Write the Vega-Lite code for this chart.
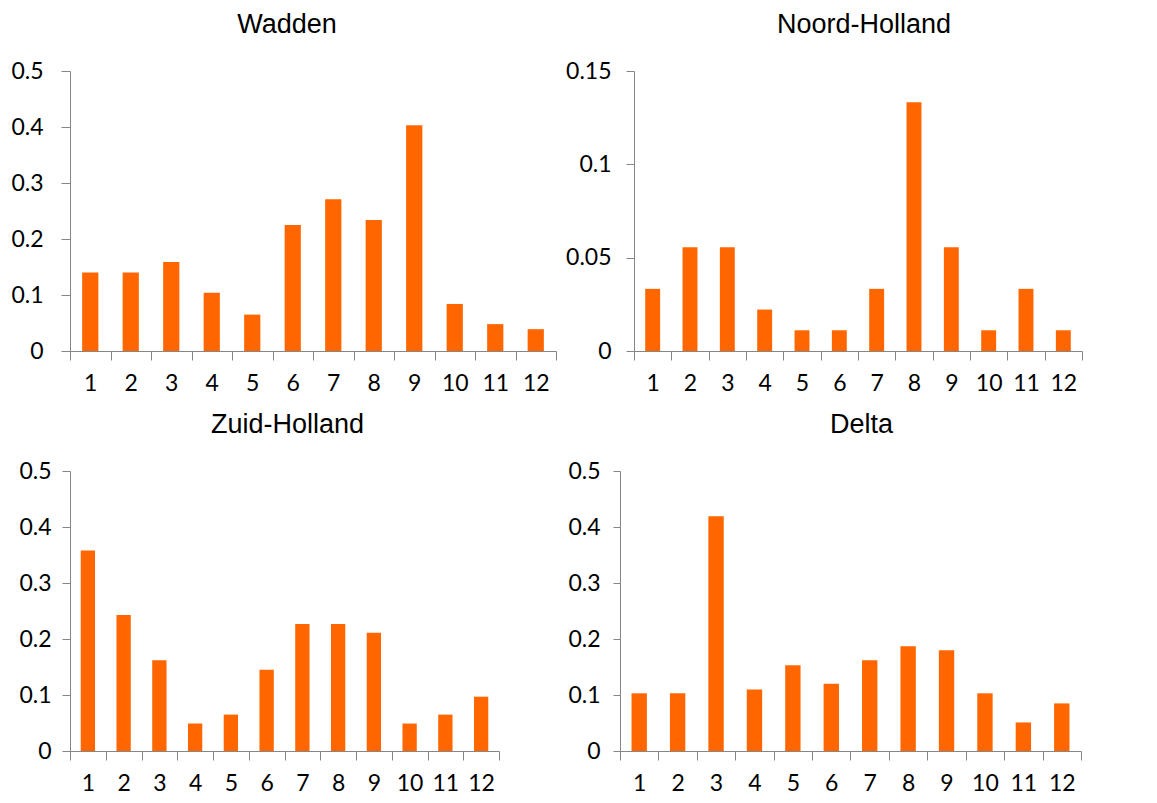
{
  "$schema": "https://vega.github.io/schema/vega-lite/v6.json",
  "description": "Monthly share per region, four bar panels",
  "background": "white",
  "padding": {"left": 10, "top": 11, "right": 10, "bottom": 5},
  "config": {
    "view": {"stroke": null},
    "font": "Lato",
    "axis": {
      "grid": false,
      "domainColor": "#868686",
      "tickColor": "#868686",
      "labelColor": "#000000",
      "labelFont": "Lato",
      "labelFontSize": 23
    },
    "axisX": {"labelAngle": 0, "tickBand": "extent", "tickSize": 9, "labelPadding": 12},
    "title": {"font": "Liberation Sans", "fontSize": 27, "fontWeight": "normal", "color": "#000000", "offset": 21},
    "bar": {"color": "#FF6600"}
  },
  "datasets": {
    "rates": [
      {"region": "Wadden", "month": 1, "value": 0.14},
      {"region": "Wadden", "month": 2, "value": 0.14},
      {"region": "Wadden", "month": 3, "value": 0.159},
      {"region": "Wadden", "month": 4, "value": 0.104},
      {"region": "Wadden", "month": 5, "value": 0.065},
      {"region": "Wadden", "month": 6, "value": 0.225},
      {"region": "Wadden", "month": 7, "value": 0.271},
      {"region": "Wadden", "month": 8, "value": 0.234},
      {"region": "Wadden", "month": 9, "value": 0.403},
      {"region": "Wadden", "month": 10, "value": 0.084},
      {"region": "Wadden", "month": 11, "value": 0.048},
      {"region": "Wadden", "month": 12, "value": 0.039},
      {"region": "Noord-Holland", "month": 1, "value": 0.0333},
      {"region": "Noord-Holland", "month": 2, "value": 0.0556},
      {"region": "Noord-Holland", "month": 3, "value": 0.0556},
      {"region": "Noord-Holland", "month": 4, "value": 0.0222},
      {"region": "Noord-Holland", "month": 5, "value": 0.0111},
      {"region": "Noord-Holland", "month": 6, "value": 0.0111},
      {"region": "Noord-Holland", "month": 7, "value": 0.0333},
      {"region": "Noord-Holland", "month": 8, "value": 0.1333},
      {"region": "Noord-Holland", "month": 9, "value": 0.0556},
      {"region": "Noord-Holland", "month": 10, "value": 0.0111},
      {"region": "Noord-Holland", "month": 11, "value": 0.0333},
      {"region": "Noord-Holland", "month": 12, "value": 0.0111},
      {"region": "Zuid-Holland", "month": 1, "value": 0.358},
      {"region": "Zuid-Holland", "month": 2, "value": 0.243},
      {"region": "Zuid-Holland", "month": 3, "value": 0.162},
      {"region": "Zuid-Holland", "month": 4, "value": 0.049},
      {"region": "Zuid-Holland", "month": 5, "value": 0.065},
      {"region": "Zuid-Holland", "month": 6, "value": 0.145},
      {"region": "Zuid-Holland", "month": 7, "value": 0.227},
      {"region": "Zuid-Holland", "month": 8, "value": 0.227},
      {"region": "Zuid-Holland", "month": 9, "value": 0.211},
      {"region": "Zuid-Holland", "month": 10, "value": 0.049},
      {"region": "Zuid-Holland", "month": 11, "value": 0.065},
      {"region": "Zuid-Holland", "month": 12, "value": 0.097},
      {"region": "Delta", "month": 1, "value": 0.103},
      {"region": "Delta", "month": 2, "value": 0.103},
      {"region": "Delta", "month": 3, "value": 0.419},
      {"region": "Delta", "month": 4, "value": 0.11},
      {"region": "Delta", "month": 5, "value": 0.153},
      {"region": "Delta", "month": 6, "value": 0.12},
      {"region": "Delta", "month": 7, "value": 0.162},
      {"region": "Delta", "month": 8, "value": 0.187},
      {"region": "Delta", "month": 9, "value": 0.18},
      {"region": "Delta", "month": 10, "value": 0.103},
      {"region": "Delta", "month": 11, "value": 0.051},
      {"region": "Delta", "month": 12, "value": 0.085}
    ]
  },
  "data": {"name": "rates"},
  "spacing": 16,
  "vconcat": [
    {
      "spacing": 8,
      "hconcat": [
        {
          "title": {"text": "Wadden", "dx": -26},
          "width": 486,
          "height": 280,
          "transform": [{"filter": "datum.region === 'Wadden'"}],
          "mark": {"type": "bar", "width": {"band": 0.4}},
          "encoding": {
            "x": {"field": "month", "type": "ordinal", "title": null, "scale": {"paddingInner": 0, "paddingOuter": 0}},
            "y": {
              "field": "value", "type": "quantitative", "title": null,
              "scale": {"domain": [0, 0.5], "nice": false},
              "axis": {"values": [0, 0.1, 0.2, 0.3, 0.4, 0.5], "labelExpr": "'' + datum.value", "tickSize": 9, "labelPadding": 18}
            }
          }
        },
        {
          "title": {"text": "Noord-Holland", "dx": 6},
          "width": 448,
          "height": 280,
          "transform": [{"filter": "datum.region === 'Noord-Holland'"}],
          "mark": {"type": "bar", "width": {"band": 0.4}},
          "encoding": {
            "x": {"field": "month", "type": "ordinal", "title": null, "scale": {"paddingInner": 0, "paddingOuter": 0}},
            "y": {
              "field": "value", "type": "quantitative", "title": null,
              "scale": {"domain": [0, 0.15], "nice": false},
              "axis": {"values": [0, 0.05, 0.1, 0.15], "labelExpr": "'' + datum.value", "tickSize": 8, "labelPadding": 15}
            }
          }
        }
      ]
    },
    {
      "spacing": 67,
      "hconcat": [
        {
          "title": {"text": "Zuid-Holland", "dx": 3},
          "width": 429,
          "height": 280,
          "transform": [{"filter": "datum.region === 'Zuid-Holland'"}],
          "mark": {"type": "bar", "width": {"band": 0.4}},
          "encoding": {
            "x": {"field": "month", "type": "ordinal", "title": null, "scale": {"paddingInner": 0, "paddingOuter": 0}},
            "y": {
              "field": "value", "type": "quantitative", "title": null,
              "scale": {"domain": [0, 0.5], "nice": false},
              "axis": {"values": [0, 0.1, 0.2, 0.3, 0.4, 0.5], "labelExpr": "'' + datum.value", "tickSize": 8, "labelPadding": 11}
            }
          }
        },
        {
          "title": {"text": "Delta", "dx": 11},
          "width": 461,
          "height": 280,
          "transform": [{"filter": "datum.region === 'Delta'"}],
          "mark": {"type": "bar", "width": {"band": 0.4}},
          "encoding": {
            "x": {"field": "month", "type": "ordinal", "title": null, "scale": {"paddingInner": 0, "paddingOuter": 0}},
            "y": {
              "field": "value", "type": "quantitative", "title": null,
              "scale": {"domain": [0, 0.5], "nice": false},
              "axis": {"values": [0, 0.1, 0.2, 0.3, 0.4, 0.5], "labelExpr": "'' + datum.value", "tickSize": 7, "labelPadding": 13}
            }
          }
        }
      ]
    }
  ]
}
